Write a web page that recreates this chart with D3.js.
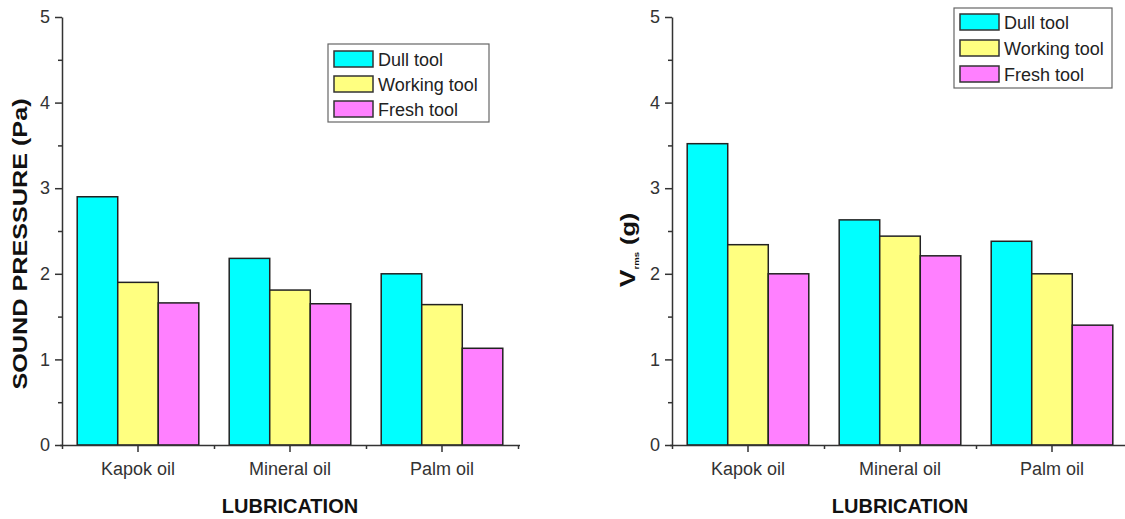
<!DOCTYPE html>
<html>
<head>
<meta charset="utf-8">
<script src="https://cdn.jsdelivr.net/npm/d3@7"></script>
<style>
  html, body { margin: 0; padding: 0; background: #fff; }
  svg { display: block; font-family: "Liberation Sans", Arial, sans-serif; }
</style>
</head>
<body>
<svg id="chart" width="1125" height="519"></svg>
<script>
// ---- data ----
const categories = ["Kapok oil", "Mineral oil", "Palm oil"];
const seriesNames = ["Dull tool", "Working tool", "Fresh tool"];
const seriesColors = ["#00ffff", "#ffff80", "#ff80ff"];
const soundDull = [2.90, 2.18, 2.00];
const soundWorking = [1.90, 1.81, 1.64];
const soundFresh = [1.66, 1.65, 1.13];
const vibDull = [3.52, 2.63, 2.38];
const vibWorking = [2.34, 2.44, 2.00];
const vibFresh = [2.00, 2.21, 1.40];
const yTicks = [0, 1, 2, 3, 4, 5];
const yMinorTicks = [0.5, 1.5, 2.5, 3.5, 4.5];
const xTitle = "LUBRICATION";

const svg = d3.select("#chart");

function drawPanel(opts) {
  const g = svg.append("g");
  const y = d3.scaleLinear().domain([0, 5]).range([445, 17]);
  const x = d3.scaleBand().domain(categories).range([opts.x0, opts.x0 + 456])
    .paddingInner(0.2).paddingOuter(0.1);
  const xs = d3.scaleBand().domain(seriesNames).range([0, x.bandwidth()]);
  const xb = d3.scaleLinear().domain([0, categories.length]).range(x.range());

  const data = categories.map((c, i) => ({
    cat: c,
    vals: seriesNames.map((s, j) => ({ s, j, v: opts.series[j][i] }))
  }));

  // bars
  g.selectAll("g.grp").data(data).join("g")
    .attr("transform", d => `translate(${x(d.cat)},0)`)
    .selectAll("rect").data(d => d.vals).join("rect")
    .attr("x", d => xs(d.s))
    .attr("width", xs.bandwidth())
    .attr("y", d => y(d.v))
    .attr("height", d => y(0) - y(d.v))
    .attr("fill", d => seriesColors[d.j])
    .attr("stroke", "#222")
    .attr("stroke-width", 1.5);

  // y axis major
  const ya = g.append("g").attr("transform", `translate(${opts.x0},0)`)
    .call(d3.axisLeft(y).tickValues(yTicks).tickFormat(d3.format("d")).tickSize(7).tickSizeOuter(0).tickPadding(5));
  ya.selectAll("text").attr("font-size", 18).attr("fill", "#333")
    .attr("font-family", "Liberation Sans, Arial, sans-serif");
  ya.selectAll("line, path").attr("stroke", "#333").attr("stroke-width", 1.5);
  // y axis minor
  const ym = g.append("g").attr("transform", `translate(${opts.x0},0)`)
    .call(d3.axisLeft(y).tickValues(yMinorTicks).tickFormat("").tickSize(4).tickSizeOuter(0));
  ym.select("path").remove();
  ym.selectAll("line").attr("stroke", "#333").attr("stroke-width", 1.5);

  // x axis major
  const xa = g.append("g").attr("transform", `translate(0,445)`)
    .call(d3.axisBottom(x).tickSize(7).tickSizeOuter(0).tickPadding(10));
  xa.select("path").attr("d", `M${opts.x0 - 2},0.5H${opts.x0 + 456 + 2}`);
  xa.selectAll("line, path").attr("stroke", "#333").attr("stroke-width", 1.5);
  xa.selectAll("text").attr("font-size", 18).attr("fill", "#333")
    .attr("font-family", "Liberation Sans, Arial, sans-serif");
  // x axis minor (band boundaries)
  const xm = g.append("g").attr("transform", `translate(0,445)`)
    .call(d3.axisBottom(xb).tickValues(d3.range(categories.length + 1)).tickFormat("").tickSize(4).tickSizeOuter(0));
  xm.select("path").remove();
  xm.selectAll("line").attr("stroke", "#333").attr("stroke-width", 1.5);

  // x title
  g.append("text")
    .attr("x", x("Mineral oil") + x.bandwidth() / 2)
    .attr("y", 513)
    .attr("text-anchor", "middle")
    .attr("font-size", 20).attr("font-weight", "bold").attr("fill", "#111")
    .text(xTitle);

  // legend
  const L = opts.legend;
  g.append("rect").attr("x", L.x).attr("y", L.y).attr("width", L.w).attr("height", L.h)
    .attr("fill", "#fff").attr("stroke", "#666").attr("stroke-width", 1.2);
  seriesNames.forEach((s, j) => {
    const ry = L.y + L.top + j * L.step;
    g.append("rect").attr("x", L.x + 6).attr("y", ry).attr("width", 39).attr("height", 16)
      .attr("fill", seriesColors[j]).attr("stroke", "#333").attr("stroke-width", 1.5);
    g.append("text").attr("x", L.x + 50).attr("y", ry + 15)
      .attr("font-size", 18).attr("fill", "#222").text(s);
  });

  return g;
}

const left = drawPanel({
  x0: 62,
  series: [soundDull, soundWorking, soundFresh],
  legend: { x: 328, y: 44, w: 161, h: 78, top: 7, step: 25 }
});
left.append("text")
  .attr("transform", "translate(27,244) rotate(-90) scale(1.2,1)")
  .attr("text-anchor", "middle")
  .attr("font-size", 21).attr("font-weight", "bold").attr("fill", "#111")
  .text("SOUND PRESSURE (Pa)");

const right = drawPanel({
  x0: 672,
  series: [vibDull, vibWorking, vibFresh],
  legend: { x: 954, y: 8, w: 158, h: 80, top: 6, step: 26 }
});
const rl = right.append("text")
  .attr("transform", "translate(635,250) rotate(-90) scale(1.2,1)")
  .attr("text-anchor", "middle")
  .attr("font-weight", "bold").attr("fill", "#111");
rl.append("tspan").attr("font-size", 22).text("V");
rl.append("tspan").attr("font-size", 8).attr("dy", 4).text("rms");
rl.append("tspan").attr("font-size", 21).attr("dy", -4).text(" (g)");
</script>
</body>
</html>
